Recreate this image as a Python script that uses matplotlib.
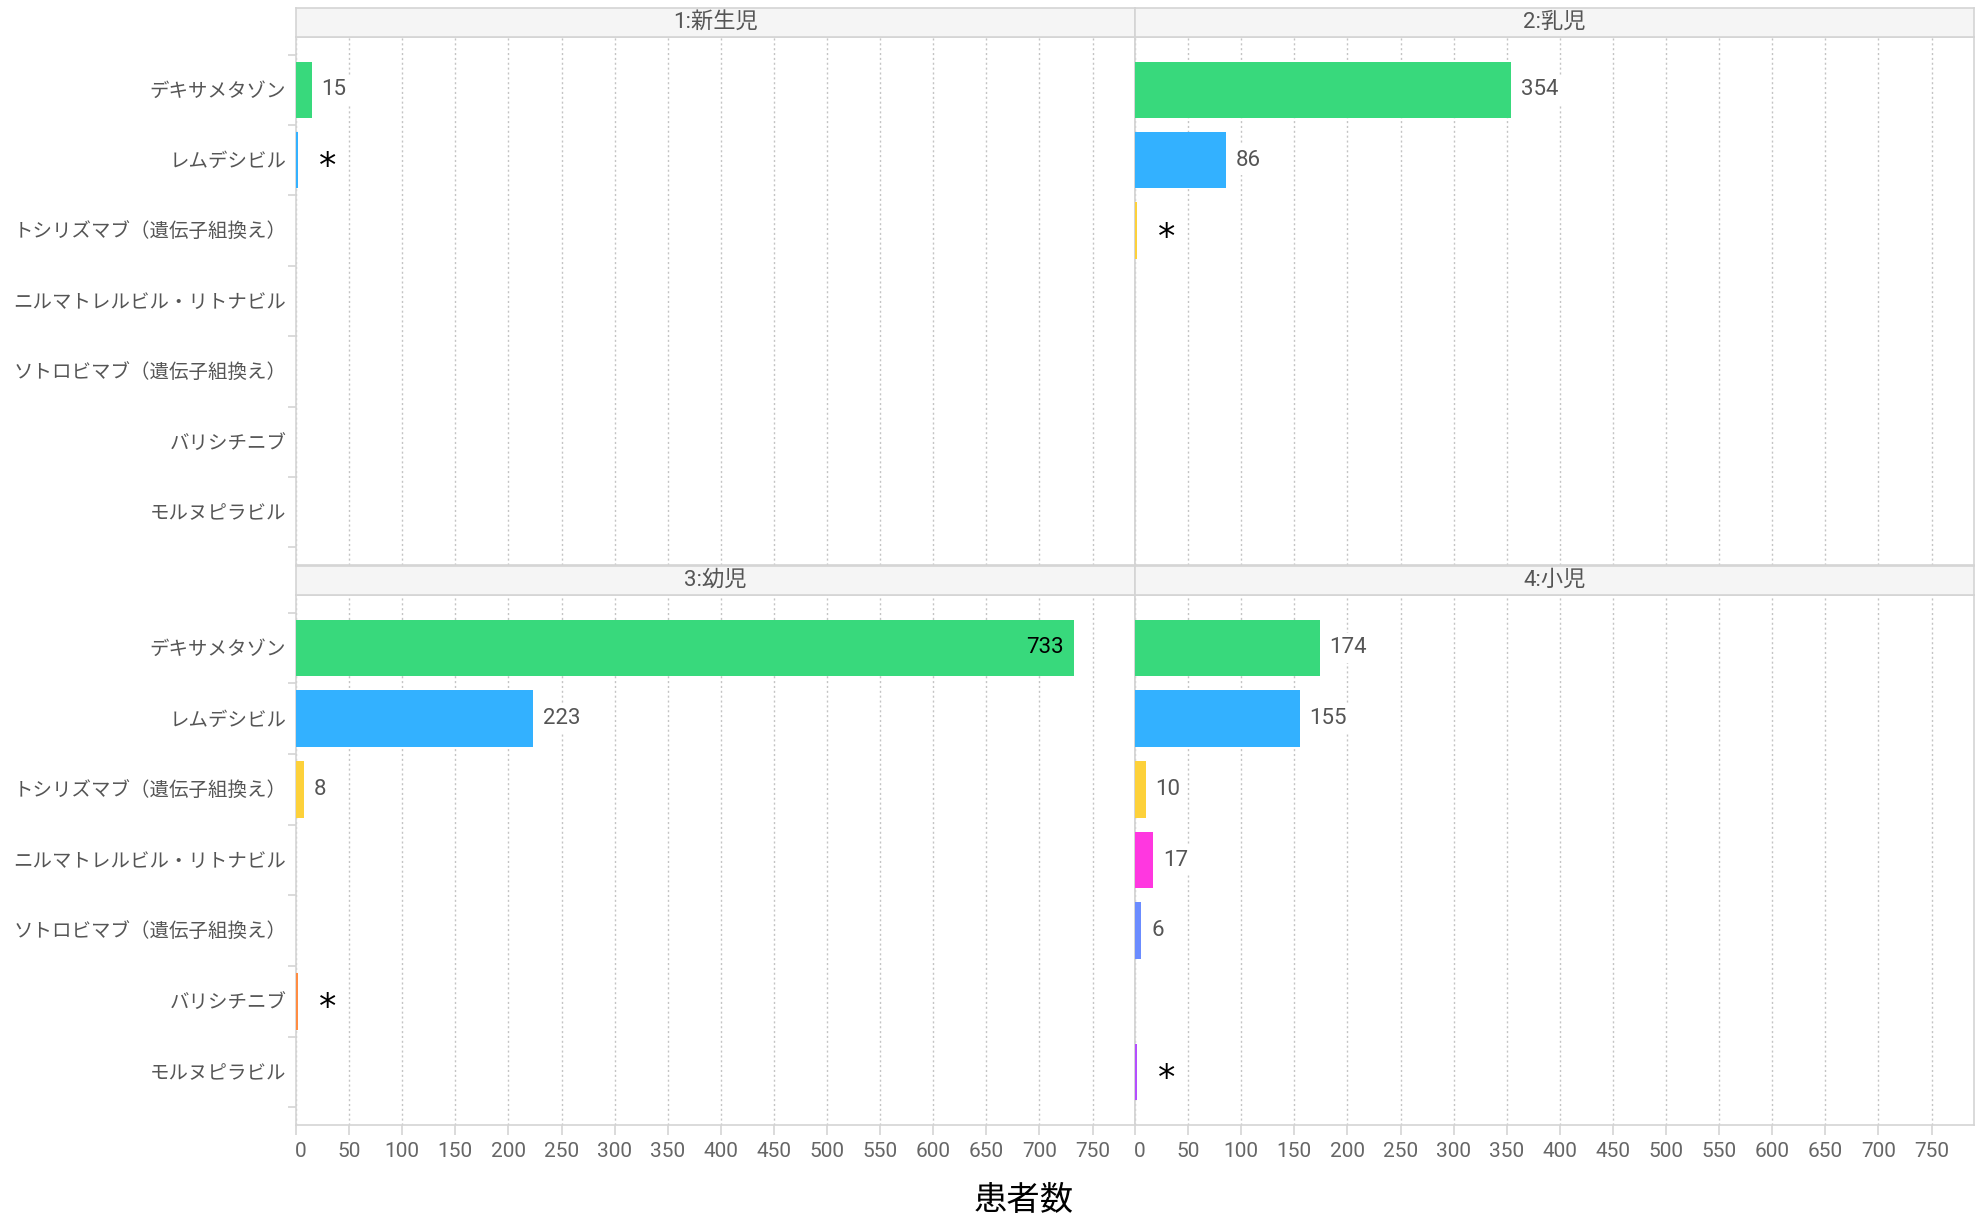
import numpy as np
import matplotlib
matplotlib.use("Agg")
import matplotlib.pyplot as plt
from matplotlib.transforms import ScaledTranslation

plt.rcParams['font.family'] = ['Roboto', 'Noto Sans CJK JP', 'DejaVu Sans']

# drug names (y categories)
drugs = ['デキサメタゾン', 'レムデシビル', 'トシリズマブ（遺伝子組換え）',
         'ニルマトレルビル・リトナビル', 'ソトロビマブ（遺伝子組換え）',
         'バリシチニブ', 'モルヌピラビル']
colors = ['#38d97c', '#33b1ff', '#fdd13a', '#ff37e0', '#6b8cff', '#ff8c42', '#b44eff']

panel_titles = ['1:新生児', '2:乳児', '3:幼児', '4:小児']

# patient counts; "*" = suppressed small count (drawn as a thin bar)
neonate = [15, 2, 0, 0, 0, 0, 0]
neonate_lbl = ['15', '*', '', '', '', '', '']
infant = [354, 86, 2, 0, 0, 0, 0]
infant_lbl = ['354', '86', '*', '', '', '', '']
toddler = [733, 223, 8, 0, 0, 2, 0]
toddler_lbl = ['733', '223', '8', '', '', '*', '']
child = [174, 155, 10, 17, 6, 0, 2]
child_lbl = ['174', '155', '10', '17', '6', '', '*']

xticks = list(range(0, 800, 50))
xmax = 790

W, H = 1982, 1220
fig = plt.figure(figsize=(W / 100, H / 100), dpi=100)

left_x = [296, 1135]
pw = 839
rows = [(37, 565, 8), (595, 1125, 566)]  # plot top, plot bottom, strip top
strip_h = 29

data = [(neonate, neonate_lbl), (infant, infant_lbl), (toddler, toddler_lbl), (child, child_lbl)]
y = np.arange(len(drugs))
grey = '#d4d4d4'

for i, (vals, lbls) in enumerate(data):
    r, c = divmod(i, 2)
    top, bot, stop = rows[r]
    x0 = left_x[c]
    ax = fig.add_axes([x0 / W, 1 - bot / H, pw / W, (bot - top) / H])
    ax.barh(y, vals, height=0.8, color=colors, zorder=3)
    ax.set_xlim(0, xmax)
    ax.set_ylim(6.75, -0.75)
    ax.set_xticks(xticks)
    ax.grid(axis='x', linestyle=(0, (1.5, 2)), color='#c4c4c4', linewidth=1, zorder=0)
    for s in ax.spines.values():
        s.set_color(grey)
        s.set_linewidth(1.2)

    for v, lb, yy in zip(vals, lbls, y):
        if not lb:
            continue
        if lb == '*':
            ax.annotate(lb, (v, yy), xytext=(15, -5), textcoords='offset points',
                        ha='left', va='center', fontsize=25, color='black', zorder=5,
                        family=['DejaVu Sans'],
                        bbox=dict(boxstyle='square,pad=0.15', fc='white', ec='none'))
        elif v > 600:
            ax.annotate(lb, (v, yy), xytext=(-8, 0), textcoords='offset points',
                        ha='right', va='center', fontsize=16, color='black', zorder=5)
        else:
            ax.annotate(lb, (v, yy), xytext=(7, 0), textcoords='offset points',
                        ha='left', va='center', fontsize=16, color='#555555', zorder=5,
                        bbox=dict(boxstyle='square,pad=0.2', fc='white', ec='none'))

    ax.set_yticks(y)
    ax.set_yticks(np.arange(-0.5, 7, 1), minor=True)
    ax.tick_params(axis='y', which='major', length=0, pad=7)
    if c == 0:
        ax.set_yticklabels(drugs, fontsize=14, color='#555555')
        ax.tick_params(axis='y', which='minor', length=6, color=grey, width=1.2)
    else:
        ax.set_yticklabels([])
        ax.tick_params(axis='y', which='minor', length=0)

    if r == 1:
        ax.tick_params(axis='x', length=7, color=grey, width=1.2, labelsize=15,
                       labelcolor='#666666', pad=5)
        tl = ax.get_xticklabels()
        tl[0].set_transform(tl[0].get_transform() + ScaledTranslation(5 / 100, 0, fig.dpi_scale_trans))
    else:
        ax.tick_params(axis='x', length=0, labelbottom=False)

    sax = fig.add_axes([x0 / W, 1 - (stop + strip_h) / H, pw / W, strip_h / H])
    sax.set_facecolor('#f5f5f5')
    sax.set_xticks([])
    sax.set_yticks([])
    for s in sax.spines.values():
        s.set_color(grey)
        s.set_linewidth(1.2)
    sax.text(0.5, 0.5, panel_titles[i], ha='center', va='center', fontsize=16,
             color='#555555', transform=sax.transAxes)

fig.text(1024 / W, 1 - 1201 / H, '患者数', ha='center', va='center', fontsize=24, color='black')

fig.savefig('out.png', dpi=100)
